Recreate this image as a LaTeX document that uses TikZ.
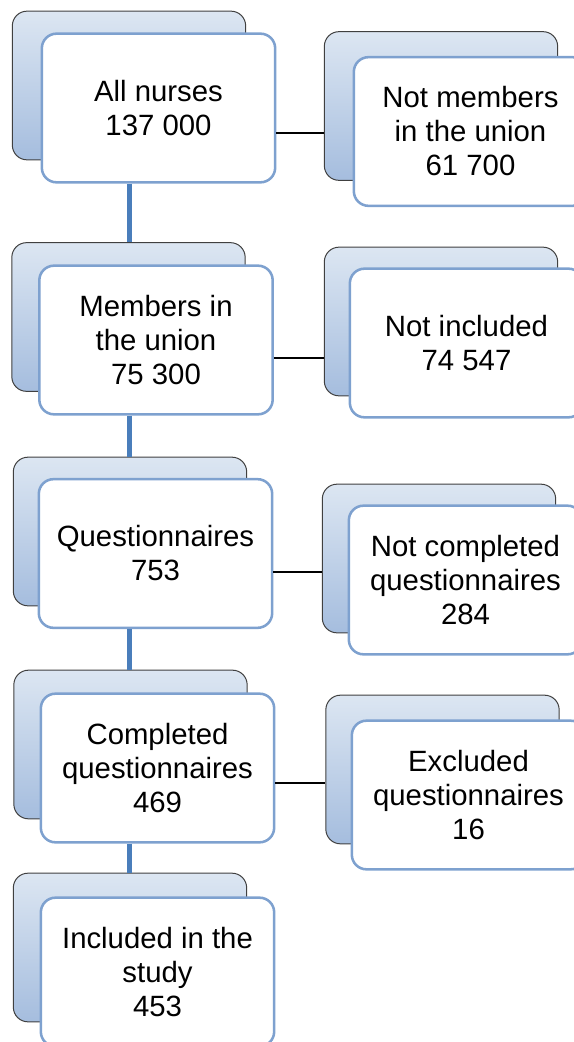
\documentclass[tikz,border=0pt]{standalone}
\usepackage{fontspec}
\setmainfont{Liberation Sans}
\definecolor{bktop}{RGB}{220,230,242}
\definecolor{bkbot}{RGB}{165,189,222}
\definecolor{frline}{RGB}{126,161,207}
\definecolor{vline}{RGB}{74,126,187}

\begin{document}
\begin{tikzpicture}[x=.75pt,y=-.75pt,
  back/.style={draw=black!75,line width=.75pt,rounded corners=11pt,top color=bktop,bottom color=bkbot,
    minimum width=175pt,minimum height=111.5pt,inner sep=0pt},
  front/.style={draw=frline,line width=1.9pt,fill=white,rounded corners=11pt,
    minimum width=175pt,minimum height=111.5pt,inner sep=0pt,align=center,font=\fontsize{22}{25.5}\selectfont},
  down/.style={draw=vline,line width=3.75pt},
  side/.style={draw=black,line width=1.2pt}]
\useasboundingbox (0,0) rectangle (574,1042);
\clip (0,0) rectangle (574,1042);

\node[back] (L1b) at (129,85.5) {};
\node[front] (L1f) at (158.5,108) {All nurses\\137 000};
\node[back] (L2b) at (128.5,317) {};
\node[front] (L2f) at (156,340) {Members in\\the union\\75 300};
\node[back] (L3b) at (130,531.5) {};
\node[front] (L3f) at (155.5,553.5) {Questionnaires\\753};
\node[back] (L4b) at (130.5,744.5) {};
\node[front] (L4f) at (157.5,768) {Completed\\questionnaires\\469};
\node[back] (L5b) at (130,947.5) {};
\node[front] (L5f) at (157.5,972) {Included in the\\study\\453};

\node[back] (R1b) at (441,106) {};
\node[front] (R1f) at (470.5,131.5) {Not members\\in the union\\61 700};
\node[back] (R2b) at (441,321.5) {};
\node[front] (R2f) at (466.5,343) {Not included\\74 547};
\node[back] (R3b) at (439,558.5) {};
\node[front] (R3f) at (465.5,580) {Not completed\\questionnaires\\284};
\node[back] (R4b) at (442.5,769.5) {};
\node[front] (R4f) at (468.5,795) {Excluded\\questionnaires\\16};

\foreach \a/\b in {1/2,2/3,3/4,4/5}
  \draw[down] (L\a f.south -| L1b) -- (L\b b.north -| L1b);

\foreach \i/\d in {1/25,2/18,3/18.5,4/15}{
  \path ([yshift={-0.75pt*\d}]L\i f.east) coordinate (c\i);
  \draw[side] (c\i) -- (c\i -| R\i b.west);
}
\end{tikzpicture}
\end{document}
